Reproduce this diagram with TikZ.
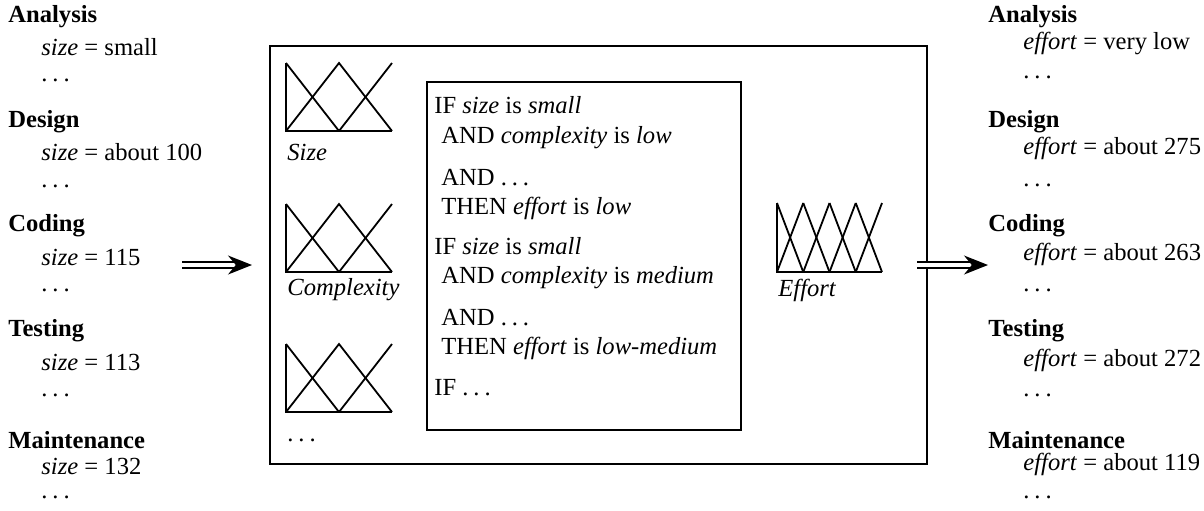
\documentclass[tikz,border=0pt]{standalone}
\usepackage{fontspec}
\setmainfont{Liberation Serif}
\usetikzlibrary{
  arrows.meta,
  positioning,
}
\newcommand{\basefont}{\fontsize{12.3}{15}\selectfont}
\newcommand{\tdots}{.\kern0.2em.\kern0.2em.}

\begin{document}
\begin{tikzpicture}[
    x=0.5pt, y=-0.5pt,
    phase/.style={anchor=west, inner sep=0pt, font=\basefont\bfseries},
    item/.style={anchor=west, inner sep=0pt, font=\basefont},
    rulebox/.style={anchor=west, inner sep=0pt, font=\basefont},
    mflabel/.style={anchor=west, inner sep=0pt, font=\basefont\itshape},
    frame/.style={draw, line width=1pt},
    mf/.style={line width=0.9pt, line join=miter},
    flow/.style={double, line width=0.7pt, double distance=2.2pt,
                 -{Stealth[length=12pt, width=9.5pt]}},
  ]
  \useasboundingbox (0,0) rectangle (1204,510);

  % input phases
  \node[phase] (anaL) at (8,17)   {Analysis};
  \node[item]  (anaLs) at (41,47) {\textit{size} = small};
  \node[item]  (anaLd) at (41,80) {\tdots};
  \node[phase] (desL) at (8,122)  {Design};
  \node[item]  (desLs) at (41,152) {\textit{size} = about 100};
  \node[item]  (desLd) at (41,186) {\tdots};
  \node[phase] (codL) at (8,226)  {Coding};
  \node[item]  (codLs) at (41,257) {\textit{size} = 115};
  \node[item]  (codLd) at (41,290) {\tdots};
  \node[phase] (tesL) at (8,331)  {Testing};
  \node[item]  (tesLs) at (41,362) {\textit{size} = 113};
  \node[item]  (tesLd) at (41,395) {\tdots};
  \node[phase] (maiL) at (8,440)  {Maintenance};
  \node[item]  (maiLs) at (41,466) {\textit{size} = 132};
  \node[item]  (maiLd) at (41,497) {\tdots};

  % output phases
  \node[phase] (anaR) at (988,17)   {Analysis};
  \node[item]  (anaRs) at (1023,43) {\textit{effort} = very low};
  \node[item]  (anaRd) at (1023,77) {\tdots};
  \node[phase] (desR) at (988,122)  {Design};
  \node[item]  (desRs) at (1023,148) {\textit{effort} = about 275};
  \node[item]  (desRd) at (1023,185) {\tdots};
  \node[phase] (codR) at (988,226)  {Coding};
  \node[item]  (codRs) at (1023,254) {\textit{effort} = about 263};
  \node[item]  (codRd) at (1023,290) {\tdots};
  \node[phase] (tesR) at (988,331)  {Testing};
  \node[item]  (tesRs) at (1023,360) {\textit{effort} = about 272};
  \node[item]  (tesRd) at (1023,395) {\tdots};
  \node[phase] (maiR) at (988,440)  {Maintenance};
  \node[item]  (maiRs) at (1023,464) {\textit{effort} = about 119};
  \node[item]  (maiRd) at (1023,497) {\tdots};

  % fuzzy model
  \draw[frame] (270,46) rectangle (927,464);
  \draw[frame] (427,82) rectangle (741,430);

  \foreach \y in {63,204,344} {
    \draw[mf] (286,\y) -- (286,\y+68) -- (392,\y+68);
    \draw[mf] (286,\y) -- (339,\y+68);
    \draw[mf] (286,\y+68) -- (339,\y) -- (392,\y+68);
    \draw[mf] (339,\y+68) -- (392,\y);
  }
  \node[mflabel] (sizeL) at (287,152) {Size};
  \node[mflabel] (cplxL) at (287,290) {Complexity};
  \node[item]    (moreL) at (287,440) {\tdots};

  \draw[mf] (777,203) -- (777,272) -- (882,272);
  \foreach \i in {0,...,3} {
    \draw[mf] (777+26.25*\i,203) -- (777+26.25*\i+26.25,272);
    \draw[mf] (777+26.25*\i,272) -- (777+26.25*\i+26.25,203);
  }
  \node[mflabel] (effL) at (778,290) {Effort};

  % rules
  \node[rulebox] (r1) at (434,105) {IF \textit{size} is \textit{small}};
  \node[rulebox] (r2) at (441,138) {AND \textit{complexity} is \textit{low}};
  \node[rulebox] (r3) at (441,178) {AND \tdots};
  \node[rulebox] (r4) at (441,208) {THEN \textit{effort} is \textit{low}};
  \node[rulebox] (r5) at (434,246) {IF \textit{size} is \textit{small}};
  \node[rulebox] (r6) at (441,278) {AND \textit{complexity} is \textit{medium}};
  \node[rulebox] (r7) at (441,318) {AND \tdots};
  \node[rulebox] (r8) at (441,348) {THEN \textit{effort} is \textit{low-medium}};
  \node[rulebox] (r9) at (434,388) {IF \tdots};

  % flow arrows
  \coordinate (inA)  at (182,265);
  \coordinate (inB)  at (252,265);
  \coordinate (outA) at (917,265);
  \coordinate (outB) at (988,265);
  \draw[flow] (inA) -- (inB);
  \draw[flow] (outA) -- (outB);
\end{tikzpicture}
\end{document}
